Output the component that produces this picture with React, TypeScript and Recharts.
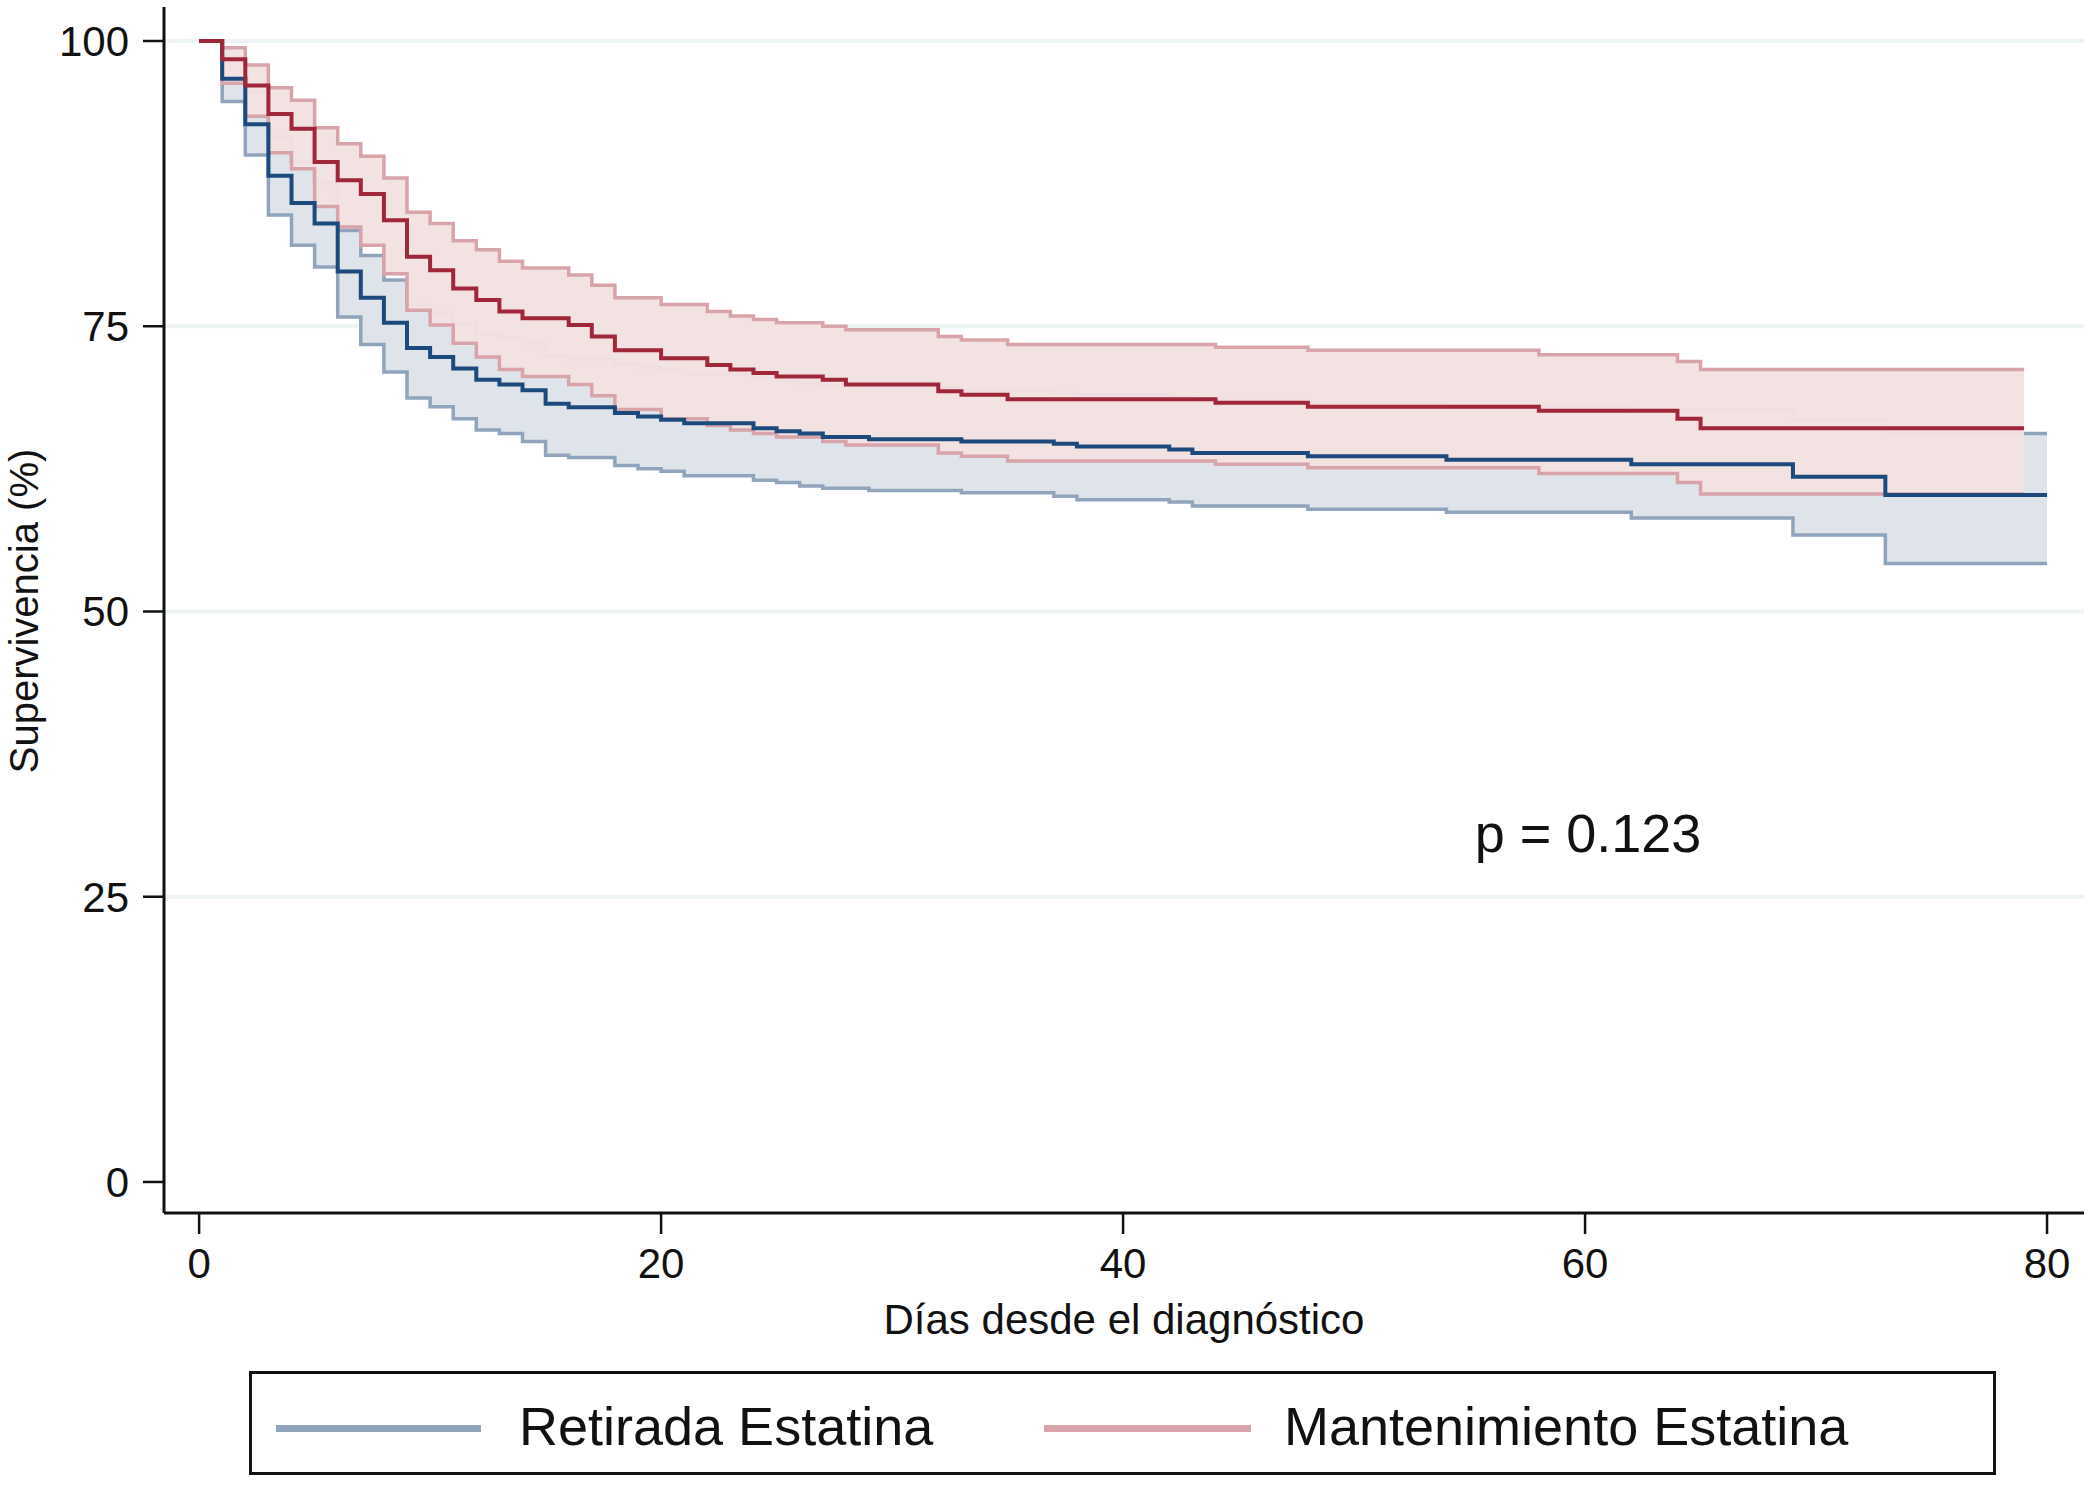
import React from "react";
import {
  ComposedChart,
  Area,
  Line,
  XAxis,
  YAxis,
  CartesianGrid,
} from "recharts";

// ─── Data ────────────────────────────────────────────────────────────────────

const X_TICKS = [0, 20, 40, 60, 80];
const Y_TICKS = [0, 25, 50, 75, 100];
const GRID_VALUES = [25, 50, 75, 100];

// Mantenimiento Estatina (red)
const RED_DAYS = [0, 1, 2, 3, 4, 5, 6, 7, 8, 9, 10, 11, 12, 13, 14, 16, 17, 18, 20, 22, 23, 24, 25, 27, 28, 32, 33, 35, 44, 48, 58, 64, 65, 79];
const RED_SURV = [100, 98.4, 96.1, 93.6, 92.3, 89.4, 87.8, 86.6, 84.3, 81.1, 79.9, 78.3, 77.3, 76.3, 75.7, 75.1, 74.1, 72.9, 72.2, 71.6, 71.2, 70.9, 70.6, 70.3, 69.9, 69.3, 69.0, 68.6, 68.3, 67.95, 67.6, 66.9, 66.05, 66.05];
const RED_HI = [100, 99.4, 97.9, 95.9, 94.8, 92.4, 91.0, 89.9, 88.0, 85.0, 84.0, 82.5, 81.7, 80.7, 80.1, 79.5, 78.6, 77.5, 76.9, 76.3, 75.9, 75.6, 75.3, 75.0, 74.7, 74.1, 73.8, 73.4, 73.15, 72.9, 72.5, 71.9, 71.2, 71.2];
const RED_LO = [100, 96.3, 93.4, 90.2, 88.8, 85.5, 83.7, 82.1, 79.6, 76.4, 75.1, 73.5, 72.3, 71.2, 70.6, 69.9, 68.9, 67.7, 66.9, 66.3, 65.9, 65.6, 65.3, 64.9, 64.6, 63.9, 63.6, 63.2, 62.9, 62.6, 62.1, 61.3, 60.3, 60.3];

// Retirada Estatina (blue)
const BLUE_DAYS = [0, 1, 2, 3, 4, 5, 6, 7, 8, 9, 10, 11, 12, 13, 14, 15, 16, 18, 19, 20, 21, 24, 25, 26, 27, 29, 33, 37, 38, 42, 43, 48, 54, 62, 69, 73, 80];
const BLUE_SURV = [100, 96.7, 92.7, 88.2, 85.8, 84.0, 79.8, 77.5, 75.3, 73.1, 72.3, 71.3, 70.3, 69.9, 69.4, 68.2, 67.9, 67.4, 67.1, 66.8, 66.5, 66.05, 65.8, 65.6, 65.3, 65.1, 64.9, 64.7, 64.45, 64.2, 63.9, 63.6, 63.3, 62.9, 61.8, 60.2, 60.2];
const BLUE_HI = [100, 98.6, 95.6, 91.6, 89.4, 87.6, 83.4, 81.2, 79.05, 76.9, 76.2, 75.2, 74.3, 73.9, 73.5, 72.4, 72.1, 71.7, 71.4, 71.1, 70.8, 70.4, 70.2, 70.0, 69.8, 69.6, 69.4, 69.2, 69.0, 68.8, 68.5, 68.3, 68.0, 67.7, 66.8, 65.6, 65.6];
const BLUE_LO = [100, 94.7, 90.0, 84.75, 82.1, 80.2, 75.8, 73.4, 71.0, 68.7, 67.95, 66.9, 65.9, 65.6, 64.9, 63.7, 63.5, 62.8, 62.5, 62.3, 61.9, 61.5, 61.3, 61.0, 60.8, 60.6, 60.4, 60.1, 59.8, 59.6, 59.25, 58.95, 58.7, 58.2, 56.7, 54.2, 54.2];

const FONT = '"Liberation Sans", Arial, Helvetica, sans-serif';

// value of a step curve at day x (last step at or before x), null past its end
function stepAt(days: number[], vals: number[], x: number) {
  if (x > days[days.length - 1]) return null;
  let idx = -1;
  for (let i = 0; i < days.length; i++) if (days[i] <= x) idx = i;
  return idx < 0 ? null : vals[idx];
}

const ALL_DAYS = Array.from(new Set([...RED_DAYS, ...BLUE_DAYS])).sort((a, b) => a - b);

const rows = ALL_DAYS.map((d) => {
  const red = stepAt(RED_DAYS, RED_SURV, d);
  const redLo = stepAt(RED_DAYS, RED_LO, d);
  const redHi = stepAt(RED_DAYS, RED_HI, d);
  const blue = stepAt(BLUE_DAYS, BLUE_SURV, d);
  const blueLo = stepAt(BLUE_DAYS, BLUE_LO, d);
  const blueHi = stepAt(BLUE_DAYS, BLUE_HI, d);
  return {
    day: d,
    red,
    redBand: redLo == null ? null : [redLo, redHi],
    blue,
    blueBand: blueLo == null ? null : [blueLo, blueHi],
  };
});

const tickStyle = { fontSize: 42, fill: "#111", fontFamily: FONT };

export default function App() {
  return (
    <div style={{ position: "relative", width: 2091, height: 1485, background: "#fff", fontFamily: FONT }}>
      <style>{"body{margin:0}"}</style>
      <ComposedChart
        width={2091}
        height={1485}
        data={rows}
        margin={{ top: 7, right: 7, left: 0, bottom: 172 }}
      >
        {/* faint horizontal grid behind the bands */}
        <CartesianGrid
          vertical={false}
          stroke="#eef3f3"
          strokeWidth={4}
          horizontalValues={GRID_VALUES}
        />
        <XAxis
          type="number"
          dataKey="day"
          domain={[-1.52, 81.6]}
          ticks={X_TICKS}
          allowDataOverflow
          height={100}
          tickSize={21}
          tickMargin={14}
          tick={tickStyle}
          axisLine={{ stroke: "#111", strokeWidth: 3 }}
          tickLine={{ stroke: "#111", strokeWidth: 2.5 }}
        />
        <YAxis
          type="number"
          domain={[-2.72, 102.98]}
          ticks={Y_TICKS}
          allowDataOverflow
          width={164}
          tickSize={21}
          tickMargin={14}
          tick={tickStyle}
          axisLine={{ stroke: "#111", strokeWidth: 3 }}
          tickLine={{ stroke: "#111", strokeWidth: 2.5 }}
        />

        {/* CI bands with their outlines; the red band is drawn over the blue one */}
        <Area
          dataKey="blueBand"
          type="stepAfter"
          fill="#dfe4eb"
          fillOpacity={1}
          stroke="#90a4bb"
          strokeWidth={3.5}
          isAnimationActive={false}
        />
        <Area
          dataKey="redBand"
          type="stepAfter"
          fill="#f3e1e1"
          fillOpacity={0.97}
          stroke="#d9a3aa"
          strokeWidth={3.5}
          isAnimationActive={false}
        />

        <Line dataKey="blue" type="stepAfter" stroke="#1c4a7c" strokeWidth={4} dot={false} isAnimationActive={false} />
        <Line dataKey="red" type="stepAfter" stroke="#a0263a" strokeWidth={4} dot={false} isAnimationActive={false} />
      </ComposedChart>

      {/* axis titles */}
      <div
        style={{
          position: "absolute",
          left: 24,
          top: 611,
          transform: "translate(-50%, -50%) rotate(-90deg)",
          fontSize: 40,
          whiteSpace: "nowrap",
          color: "#111",
        }}
      >
        Supervivencia (%)
      </div>
      <div
        style={{
          position: "absolute",
          left: 1124,
          top: 1320,
          transform: "translate(-50%, -50%)",
          fontSize: 42,
          whiteSpace: "nowrap",
          color: "#111",
        }}
      >
        Días desde el diagnóstico
      </div>

      {/* p value */}
      <div
        style={{
          position: "absolute",
          left: 1588,
          top: 833,
          transform: "translate(-50%, -50%)",
          fontSize: 54,
          whiteSpace: "nowrap",
          color: "#111",
        }}
      >
        p = 0.123
      </div>

      {/* legend */}
      <div
        style={{
          position: "absolute",
          left: 249,
          top: 1371,
          width: 1747,
          height: 104,
          boxSizing: "border-box",
          border: "3px solid #111",
          fontSize: 54,
          color: "#111",
        }}
      >
        <div style={{ position: "absolute", left: 24, top: 51, width: 205, height: 7, background: "#90a4bb" }} />
        <div style={{ position: "absolute", left: 267, top: 52, transform: "translateY(-50%)", whiteSpace: "nowrap" }}>
          Retirada Estatina
        </div>
        <div style={{ position: "absolute", left: 792, top: 51, width: 207, height: 7, background: "#d9a3aa" }} />
        <div style={{ position: "absolute", left: 1032, top: 52, transform: "translateY(-50%)", whiteSpace: "nowrap" }}>
          Mantenimiento Estatina
        </div>
      </div>
    </div>
  );
}
